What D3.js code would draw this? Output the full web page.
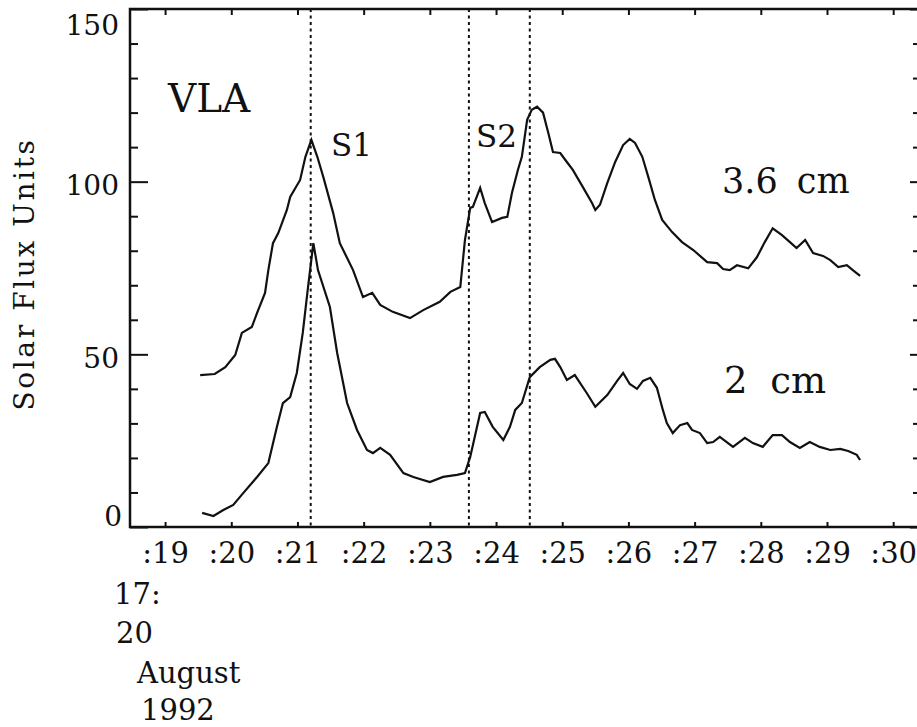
<!DOCTYPE html>
<html>
<head>
<meta charset="utf-8">
<script src="https://cdn.jsdelivr.net/npm/d3@7"></script>
<style>
  body { margin: 0; background: #fff; }
  svg { display: block; }
  text { font-family: "DejaVu Serif", serif; fill: #111; }
</style>
</head>
<body>
<script>
// minutes after 17:00 UT, 20 August 1992
var minuteTicks = [19, 20, 21, 22, 23, 24, 25, 26, 27, 28, 29, 30];
var fluxMajor = [0, 50, 100, 150];
var fluxMinor = [10, 20, 30, 40, 60, 70, 80, 90, 110, 120, 130, 140];
var markers = [21.20, 23.59, 24.51];

// 3.6 cm time profile (minute, sfu)
var t36 = [19.53, 19.75, 19.91, 20.06, 20.16, 20.31, 20.39, 20.51, 20.56, 20.63, 20.71, 20.84, 20.89, 21.04, 21.12, 21.21,
  21.30, 21.39, 21.54, 21.64, 21.84, 21.99, 22.13, 22.25, 22.44, 22.70, 22.90, 23.15, 23.31, 23.46, 23.53, 23.61,
  23.65, 23.76, 23.83, 23.94, 24.09, 24.17, 24.24, 24.33, 24.39, 24.47, 24.54, 24.62, 24.71, 24.79, 24.86, 24.97,
  25.07, 25.16, 25.31, 25.45, 25.50, 25.57, 25.68, 25.80, 25.92, 26.02, 26.10, 26.21, 26.30, 26.40, 26.51, 26.66,
  26.81, 26.98, 27.19, 27.34, 27.43, 27.53, 27.64, 27.81, 27.94, 28.06, 28.18, 28.32, 28.44, 28.54, 28.67, 28.79,
  28.94, 29.05, 29.17, 29.30, 29.39, 29.50];
var f36 = [44.0, 44.3, 46.3, 49.8, 56.2, 57.9, 62.0, 67.8, 74.4, 82.2, 85.1, 91.8, 95.6, 100.5, 107.2, 112.1,
  107.2, 101.4, 90.9, 82.2, 74.4, 66.6, 67.8, 64.3, 62.3, 60.5, 62.8, 65.2, 68.1, 69.5, 83.1, 92.4,
  92.7, 98.2, 93.8, 88.3, 89.5, 89.8, 96.7, 103.4, 107.2, 117.9, 120.8, 121.7, 120.0, 114.1, 108.6, 108.3,
  105.7, 103.4, 98.5, 93.8, 91.8, 93.3, 99.6, 105.7, 110.6, 112.4, 111.2, 107.2, 101.4, 94.7, 88.9, 85.4,
  82.5, 80.2, 76.7, 76.4, 74.7, 74.4, 75.8, 74.9, 78.1, 82.5, 86.5, 84.5, 82.5, 80.8, 83.1, 79.3,
  78.5, 77.3, 75.3, 75.8, 74.4, 72.7];

// 2 cm time profile (minute, sfu)
var t2 = [19.56, 19.73, 19.88, 20.03, 20.18, 20.39, 20.56, 20.69, 20.78, 20.89, 20.99, 21.08, 21.16, 21.24, 21.31,
  21.49, 21.60, 21.75, 21.90, 22.05, 22.14, 22.25, 22.40, 22.60, 22.75, 23.00, 23.20, 23.41, 23.53, 23.61, 23.76,
  23.83, 23.95, 24.11, 24.21, 24.29, 24.39, 24.51, 24.66, 24.82, 24.89, 24.97, 25.07, 25.19, 25.37, 25.50, 25.68,
  25.83, 25.92, 26.02, 26.13, 26.22, 26.33, 26.43, 26.52, 26.58, 26.67, 26.78, 26.89, 26.96, 27.08, 27.19, 27.28,
  27.38, 27.58, 27.76, 27.88, 28.03, 28.18, 28.32, 28.44, 28.59, 28.74, 28.89, 29.05, 29.20, 29.32, 29.45, 29.50];
var f2 = [4.1, 3.2, 4.9, 6.4, 9.8, 14.5, 18.5, 29.0, 35.9, 37.6, 44.6, 56.2, 69.5, 82.2, 74.4,
  63.7, 50.4, 35.9, 28.1, 22.3, 21.4, 22.9, 20.9, 15.6, 14.5, 13.0, 14.5, 15.1, 15.6, 20.3, 33.0,
  33.3, 29.0, 25.2, 29.0, 33.9, 35.9, 43.4, 46.3, 48.4, 48.7, 46.3, 42.6, 44.0, 38.8, 34.8, 38.2,
  42.3, 44.6, 41.4, 40.0, 42.3, 43.2, 40.3, 33.9, 30.1, 27.2, 29.5, 30.1, 28.1, 27.2, 24.3, 24.6,
  26.1, 23.2, 25.8, 24.3, 23.2, 26.6, 26.6, 24.6, 22.9, 24.6, 23.2, 22.3, 22.6, 22.0, 20.9, 19.4];

var width = 917, height = 727;
var plotL = 130, plotR = 919, plotT = 9, plotB = 527;

var svg = d3.select("body").append("svg").attr("width", width).attr("height", height);

var x = d3.scaleLinear().domain([18.47, 30.39]).range([plotL, plotR]);
var y = d3.scaleLinear().domain([0, 150]).range([plotB, plotT]);

function styleAxis(g) {
  g.select(".domain").remove();
  g.selectAll("line").attr("stroke", "#111").attr("stroke-width", 2);
  g.attr("font-family", null).attr("font-size", null);
}

// bottom minute ticks with labels
svg.append("g").attr("transform", "translate(0," + plotB + ")")
  .call(d3.axisBottom(x).tickValues(minuteTicks).tickSizeInner(-5).tickSizeOuter(0).tickPadding(15)
    .tickFormat(function(d) { return ":" + d; }))
  .call(styleAxis)
  .selectAll("text").style("font-size", "29px");

// top ticks
svg.append("g").attr("transform", "translate(0," + plotT + ")")
  .call(d3.axisTop(x).tickValues(minuteTicks).tickSizeInner(-6).tickSizeOuter(0).tickFormat(""))
  .call(styleAxis);

// left axis, minor + major
svg.append("g").attr("transform", "translate(" + plotL + ",0)")
  .call(d3.axisLeft(y).tickValues(fluxMinor).tickSizeInner(-8).tickSizeOuter(0).tickFormat(""))
  .call(styleAxis);
var yl = svg.append("g").attr("transform", "translate(" + plotL + ",0)")
  .call(d3.axisLeft(y).tickValues(fluxMajor).tickSizeInner(-18).tickSizeOuter(0).tickPadding(11))
  .call(styleAxis);
yl.selectAll("text").style("font-size", "28px")
  .attr("dy", function(d) { return d == 150 ? "0.9em" : d == 0 ? "-0.05em" : "0.47em"; })
  .attr("x", function(d) { return d == 0 ? -8 : -11; });

// right axis ticks (frame edge sits just past the page)
svg.append("g").attr("transform", "translate(" + plotR + ",0)")
  .call(d3.axisRight(y).tickValues(fluxMinor).tickSizeInner(-6).tickSizeOuter(0).tickFormat(""))
  .call(styleAxis);
svg.append("g").attr("transform", "translate(" + plotR + ",0)")
  .call(d3.axisRight(y).tickValues(fluxMajor).tickSizeInner(-9).tickSizeOuter(0).tickFormat(""))
  .call(styleAxis);

// frame
svg.append("rect").attr("x", plotL).attr("y", plotT)
  .attr("width", plotR - plotL).attr("height", plotB - plotT)
  .attr("fill", "none").attr("stroke", "#111").attr("stroke-width", 2.5);

// dotted markers
svg.selectAll(".marker").data(markers).enter().append("line")
  .attr("class", "marker")
  .attr("x1", function(d) { return x(d); }).attr("x2", function(d) { return x(d); })
  .attr("y1", plotT).attr("y2", plotB)
  .attr("stroke", "#111").attr("stroke-width", 2).attr("stroke-dasharray", "3,3.5");

var line = d3.line()
  .x(function(d) { return x(d[0]); })
  .y(function(d) { return y(d[1]); });

svg.append("path").datum(d3.zip(t36, f36)).attr("d", line)
  .attr("fill", "none").attr("stroke", "#111").attr("stroke-width", 2.2);
svg.append("path").datum(d3.zip(t2, f2)).attr("d", line)
  .attr("fill", "none").attr("stroke", "#111").attr("stroke-width", 2.2);

// labels
svg.append("text").attr("x", 168).attr("y", 112).style("font-size", "39px").text("VLA");
svg.append("text").attr("x", 331).attr("y", 156).style("font-size", "31px").text("S1");
svg.append("text").attr("x", 476).attr("y", 147).style("font-size", "31px").text("S2");
svg.append("text").attr("x", 722).attr("y", 193).style("font-size", "35px").style("word-spacing", "8px").text("3.6 cm");
svg.append("text").attr("x", 724).attr("y", 393).style("font-size", "37px").style("word-spacing", "11px").text("2 cm");

svg.append("text").attr("transform", "translate(34,274) rotate(-90)")
  .attr("text-anchor", "middle").style("font-size", "28px").style("letter-spacing", "2.6px")
  .text("Solar Flux Units");

var dateLines = [["17:", 114, 604], ["20", 116, 643], ["August", 137, 683], ["1992", 141, 720]];
dateLines.forEach(function(l) {
  svg.append("text").attr("x", l[1]).attr("y", l[2]).style("font-size", "29px").text(l[0]);
});
</script>
</body>
</html>
